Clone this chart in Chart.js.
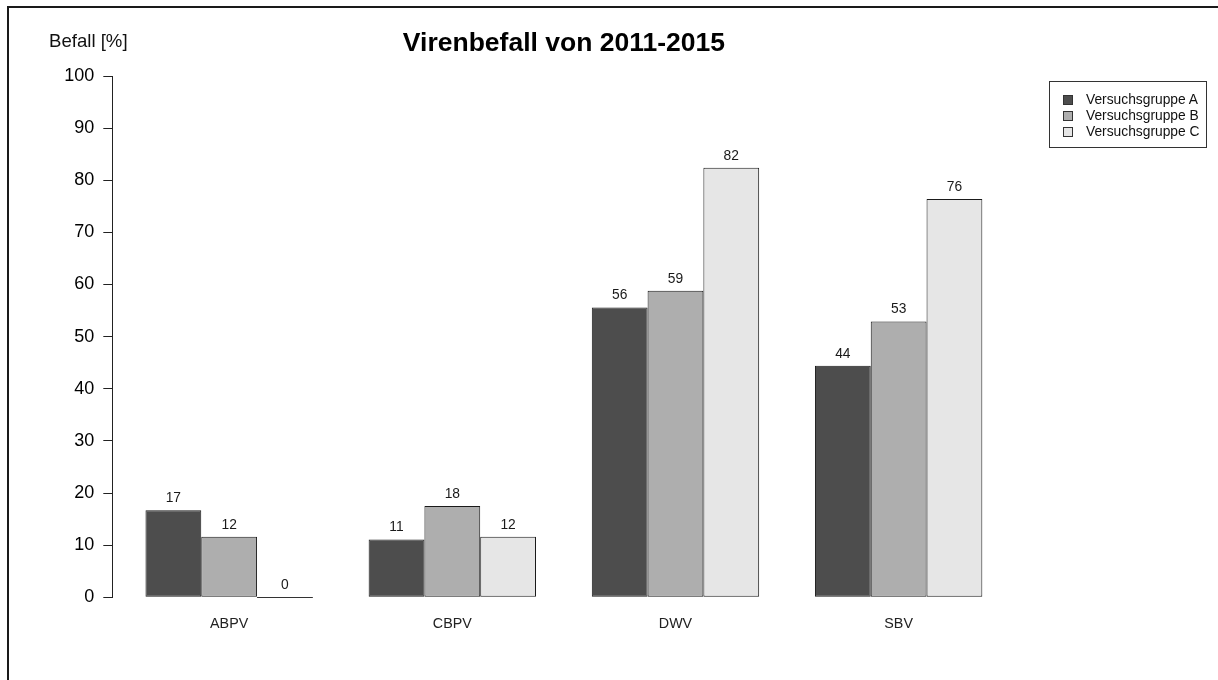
<!DOCTYPE html>
<html>
<head>
<meta charset="utf-8">
<script src="https://cdn.jsdelivr.net/npm/chart.js@4"></script>
<style>
  html, body { margin: 0; padding: 0; background: #fff; overflow: hidden; }
  #wrap { position: relative; width: 1218px; height: 680px; overflow: hidden; font-family: "Liberation Sans", Arial, sans-serif; }
  #frame { position: absolute; left: 7px; top: 6px; width: 1400px; height: 900px; border: 2px solid #1a1a1a; box-sizing: border-box; pointer-events: none; }
  canvas { position: absolute; left: 0; top: 0; }
  #ylab { position: absolute; left: 49px; top: 30px; font-size: 18.6px; color: #111; white-space: nowrap; line-height: 22px; }
  #legend { position: absolute; left: 1049px; top: 81px; width: 158px; height: 67px; border: 1px solid #333; box-sizing: border-box; }
  .item { position: absolute; left: 0; height: 16px; width: 156px; }
  .sw { position: absolute; left: 13px; top: 3px; width: 10px; height: 10px; border: 1px solid #333; box-sizing: border-box; }
  .lt { position: absolute; left: 36px; top: 0; font-size: 13.8px; line-height: 16px; color: #111; white-space: nowrap; }
</style>
</head>
<body>
<div id="wrap">
  <canvas id="c" width="1218" height="680"></canvas>
  <div id="frame"></div>
  <div id="ylab">Befall [%]</div>
  <div id="legend"></div>
</div>
<script>
const categories = ['ABPV', 'CBPV', 'DWV', 'SBV'];
const seriesNames = ['Versuchsgruppe A', 'Versuchsgruppe B', 'Versuchsgruppe C'];
const groupA = [16.7, 11.1, 55.6, 44.4];
const groupB = [11.6, 17.5, 58.8, 52.9];
const groupC = [0, 11.6, 82.4, 76.4];
const seriesColors = ['#4D4D4D', '#AEAEAE', '#E6E6E6'];
const titleText = 'Virenbefall von 2011-2015';

const allSeries = [groupA, groupB, groupC];

// HTML legend built from series names / colours
const legendEl = document.getElementById('legend');
seriesNames.forEach((name, k) => {
  const row = document.createElement('div');
  row.className = 'item';
  row.style.top = (10 + k * 16) + 'px';
  const sw = document.createElement('div');
  sw.className = 'sw';
  sw.style.background = seriesColors[k];
  const t = document.createElement('div');
  t.className = 'lt';
  t.textContent = name;
  row.appendChild(sw);
  row.appendChild(t);
  legendEl.appendChild(row);
});

const valueLabels = {
  id: 'valueLabels',
  afterDatasetsDraw(chart) {
    const ctx = chart.ctx;
    ctx.save();
    ctx.font = '13.8px "Liberation Sans", Arial, sans-serif';
    ctx.fillStyle = '#1a1a1a';
    ctx.textAlign = 'center';
    ctx.textBaseline = 'middle';
    chart.data.datasets.forEach((ds, di) => {
      const meta = chart.getDatasetMeta(di);
      meta.data.forEach((el, i) => {
        const v = ds.data[i].y;
        const p = el.getProps(['x', 'y', 'base', 'width'], true);
        if (v === 0) {
          ctx.strokeStyle = '#333';
          ctx.lineWidth = 1;
          ctx.beginPath();
          ctx.moveTo(p.x - p.width / 2, Math.round(p.base) + 0.5);
          ctx.lineTo(p.x + p.width / 2, Math.round(p.base) + 0.5);
          ctx.stroke();
        }
        ctx.fillText(String(Math.round(v)), p.x, p.y - 12);
      });
    });
    ctx.restore();
  }
};

new Chart(document.getElementById('c'), {
  type: 'bar',
  data: {
    datasets: allSeries.map((vals, k) => ({
      label: seriesNames[k],
      data: vals.map((v, i) => ({ x: i, y: v })),
      backgroundColor: seriesColors[k],
      borderColor: '#1a1a1a',
      borderWidth: 1,
      borderSkipped: false,
      categoryPercentage: 0.75,
      barPercentage: 1
    }))
  },
  options: {
    responsive: false,
    animation: false,
    devicePixelRatio: 1,
    layout: { padding: { left: 0, right: 202.2, top: 0, bottom: 42.7 } },
    plugins: {
      legend: { display: false },
      tooltip: { enabled: false },
      title: {
        display: true,
        text: titleText,
        fullSize: false,
        color: '#000',
        font: { family: '"Liberation Sans", Arial, sans-serif', size: 26.5, weight: 'bold' },
        padding: { top: 28.2, bottom: 16 }
      }
    },
    scales: {
      x: {
        type: 'linear',
        min: -0.525,
        max: 3.525,
        offset: false,
        grid: { display: false, drawTicks: false },
        border: { display: false },
        ticks: {
          stepSize: 1,
          includeBounds: false,
          autoSkip: false,
          maxRotation: 0,
          padding: 18.3,
          color: '#222',
          font: { family: '"Liberation Sans", Arial, sans-serif', size: 14.3 },
          callback: (v) => (categories[v] !== undefined ? categories[v] : '')
        },
        afterFit: (s) => { s.height = 40; }
      },
      y: {
        min: 0,
        max: 100,
        ticks: {
          stepSize: 10,
          padding: 9,
          color: '#000',
          font: { family: '"Liberation Sans", Arial, sans-serif', size: 18 }
        },
        grid: { drawOnChartArea: false, tickLength: 8.7, color: '#222', lineWidth: 1 },
        border: { display: true, color: '#222', width: 1 },
        afterFit: (s) => { s.width = 112; }
      }
    }
  },
  plugins: [valueLabels]
});
</script>
</body>
</html>
